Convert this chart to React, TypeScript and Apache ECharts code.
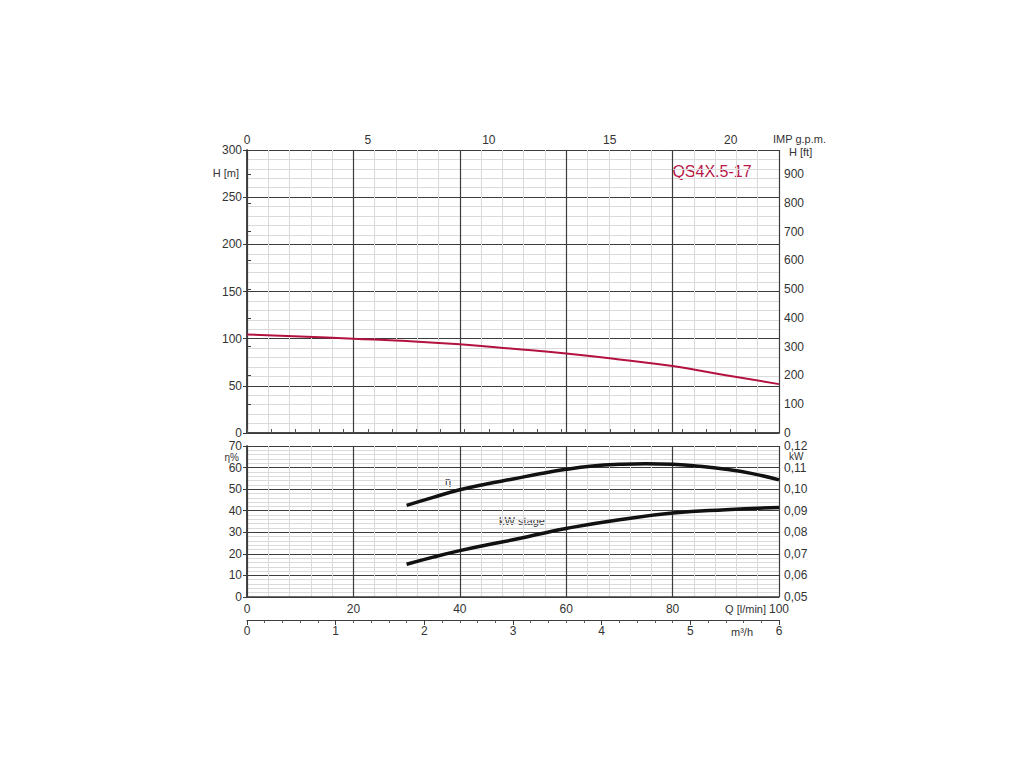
import React, { useEffect, useRef } from "react";
import * as echarts from "echarts";

// Head curve (Q in l/min, H in m)
const Q_H = [0, 10, 20, 30, 40, 50, 60, 70, 80, 90, 100];
const H_M = [104.5, 102.4, 100, 97.5, 94, 89.4, 84.4, 78, 71, 61.3, 51.8];

// Efficiency curve (Q in l/min, eta in %)
const Q_ETA = [30, 35, 40, 45, 50, 55, 60, 65, 70, 75, 80, 85, 90, 95, 100];
const ETA = [42.5, 46.2, 49.7, 52.4, 54.7, 57.1, 59.2, 60.7, 61.5, 61.8, 61.5, 60.6, 59.2, 57.2, 54.3];

// Power per stage (Q in l/min, kW)
const Q_KW = [30, 35, 40, 45, 50, 55, 60, 70, 80, 90, 100];
const KW = [0.0652, 0.0685, 0.0715, 0.0741, 0.0765, 0.0792, 0.0818, 0.0858, 0.0889, 0.0905, 0.0915];

const Q_MAX = 100;
const GPM_PER_LMIN = 0.219969;
const FT_PER_M = 1 / 0.3048;
const H_MAX = 300;

const FONT = "'Liberation Sans', Arial, sans-serif";
const TXT = "#333";
const MAJOR = "#3c3c3c";
const MINOR = "#dadada";
const RED = "#b3123f";

export default function App() {
  const ref = useRef<HTMLDivElement>(null);

  useEffect(() => {
    if (!ref.current) return;
    const chart = echarts.init(ref.current, null, { renderer: "svg" });
    const label = { color: TXT, fontFamily: FONT, fontSize: 12 };
    const axisLine = { show: true, lineStyle: { color: MAJOR, width: 1.5 } };
    const tick = { show: true, length: 4, lineStyle: { color: MAJOR } };

    chart.setOption({
      animation: false,
      backgroundColor: "#fff",
      grid: [
        { left: 247, top: 150, width: 532, height: 283 },
        { left: 247, top: 446, width: 532, height: 151 },
      ],
      xAxis: [
        {
          type: "value",
          gridIndex: 0,
          position: "top",
          min: 0,
          max: Q_MAX * GPM_PER_LMIN,
          interval: 1,
          axisLine,
          axisTick: { show: true, length: 4, lineStyle: { color: "#555" } },
          axisLabel: {
            ...label,
            margin: 4,
            showMaxLabel: false,
            formatter: (v: number) => {
              const r = Math.round(v);
              return Math.abs(v - r) < 1e-6 && r % 5 === 0 ? String(r) : "";
            },
          },
          splitLine: { show: false },
        },
        {
          type: "value",
          gridIndex: 0,
          position: "bottom",
          min: 0,
          max: Q_MAX,
          interval: 20,
          axisLine,
          axisTick: { show: false },
          axisLabel: { show: false },
          splitLine: { show: true, lineStyle: { color: MAJOR, width: 1.2 } },
          minorTick: { show: false, splitNumber: 5 },
          minorSplitLine: { show: true, lineStyle: { color: MINOR, width: 1 } },
        },
        {
          type: "value",
          gridIndex: 1,
          position: "bottom",
          min: 0,
          max: Q_MAX,
          interval: 20,
          axisLine,
          axisTick: { show: false },
          axisLabel: {
            ...label,
            margin: 6,
            formatter: (v: number) => String(v),
          },
          splitLine: { show: true, lineStyle: { color: MAJOR, width: 1.2 } },
          minorTick: { show: false, splitNumber: 5 },
          minorSplitLine: { show: true, lineStyle: { color: MINOR, width: 1 } },
        },
        {
          type: "value",
          gridIndex: 1,
          position: "bottom",
          offset: 23,
          min: 0,
          max: 6,
          interval: 1,
          axisLine: { show: true, lineStyle: { color: MAJOR, width: 1.2 } },
          axisTick: { show: true, length: 5, lineStyle: { color: MAJOR } },
          minorTick: { show: true, splitNumber: 5, length: 3, lineStyle: { color: "#555" } },
          axisLabel: { ...label, margin: 5 },
          splitLine: { show: false },
        },
      ],
      yAxis: [
        {
          type: "value",
          gridIndex: 0,
          position: "left",
          min: 0,
          max: H_MAX,
          interval: 50,
          axisLine,
          axisTick: tick,
          axisLabel: { ...label, margin: 5 },
          splitLine: { show: true, lineStyle: { color: MAJOR, width: 1 } },
          minorTick: { show: false, splitNumber: 5 },
          minorSplitLine: { show: true, lineStyle: { color: MINOR, width: 1 } },
        },
        {
          type: "value",
          gridIndex: 0,
          position: "right",
          min: 0,
          max: H_MAX * FT_PER_M,
          interval: 100,
          axisLine,
          axisTick: tick,
          axisLabel: {
            ...label,
            margin: 5,
            showMaxLabel: false,
            formatter: (v: number) => (Math.abs(v % 100) < 1e-6 ? String(v) : ""),
          },
          splitLine: { show: false },
        },
        {
          type: "value",
          gridIndex: 1,
          position: "left",
          min: 0,
          max: 70,
          interval: 10,
          axisLine,
          axisTick: tick,
          axisLabel: { ...label, margin: 5 },
          splitLine: { show: true, lineStyle: { color: MAJOR, width: 1 } },
          minorTick: { show: false, splitNumber: 5 },
          minorSplitLine: { show: true, lineStyle: { color: MINOR, width: 1 } },
        },
        {
          type: "value",
          gridIndex: 1,
          position: "right",
          min: 0.05,
          max: 0.12,
          interval: 0.01,
          axisLine,
          axisTick: tick,
          axisLabel: {
            ...label,
            margin: 5,
            formatter: (v: number) => v.toFixed(2).replace(".", ","),
          },
          splitLine: { show: false },
        },
      ],
      series: [
        {
          type: "line",
          xAxisIndex: 1,
          yAxisIndex: 0,
          data: Q_H.map((q, i) => [q, H_M[i]]),
          smooth: true,
          symbol: "none",
          lineStyle: { color: RED, width: 2 },
        },
        {
          type: "line",
          xAxisIndex: 2,
          yAxisIndex: 2,
          data: Q_ETA.map((q, i) => [q, ETA[i]]),
          smooth: true,
          symbol: "none",
          lineStyle: { color: "#111", width: 3.5 },
        },
        {
          type: "line",
          xAxisIndex: 2,
          yAxisIndex: 3,
          data: Q_KW.map((q, i) => [q, KW[i]]),
          smooth: true,
          symbol: "none",
          lineStyle: { color: "#111", width: 3.5 },
        },
      ],
      graphic: [
        { type: "text", x: 826, y: 139, style: { text: "IMP g.p.m.", fill: TXT, font: `11px ${FONT}`, align: "right", verticalAlign: "middle" } },
        { type: "text", x: 789, y: 152, style: { text: "H [ft]", fill: TXT, font: `11px ${FONT}`, align: "left", verticalAlign: "middle" } },
        { type: "text", x: 239, y: 173, style: { text: "H [m]", fill: TXT, font: `11px ${FONT}`, align: "right", verticalAlign: "middle" } },
        { type: "text", x: 239, y: 457, style: { text: "η%", fill: TXT, font: `10px ${FONT}`, align: "right", verticalAlign: "middle" } },
        { type: "text", x: 789, y: 456.5, style: { text: "kW", fill: TXT, font: `10px ${FONT}`, align: "left", verticalAlign: "middle" } },
        { type: "text", x: 766, y: 609, style: { text: "Q [l/min]", fill: TXT, font: `11px ${FONT}`, align: "right", verticalAlign: "middle" } },
        { type: "text", x: 753, y: 632, style: { text: "m³/h", fill: TXT, font: `11px ${FONT}`, align: "right", verticalAlign: "middle" } },
        { type: "text", x: 448, y: 481, style: { text: "η", fill: TXT, font: `11px ${FONT}`, align: "center", verticalAlign: "middle" } },
        { type: "text", x: 522, y: 521, style: { text: "kW stage", fill: TXT, font: `11px ${FONT}`, align: "center", verticalAlign: "middle" } },
        { type: "text", x: 712, y: 171, style: { text: "QS4X.5-17", fill: "#b8174a", font: `16px ${FONT}`, align: "center", verticalAlign: "middle" } },
      ],
    });
    return () => chart.dispose();
  }, []);

  return (
    <div
      ref={ref}
      style={{ position: "fixed", left: 0, top: 0, width: 1024, height: 768, background: "#fff" }}
    />
  );
}
